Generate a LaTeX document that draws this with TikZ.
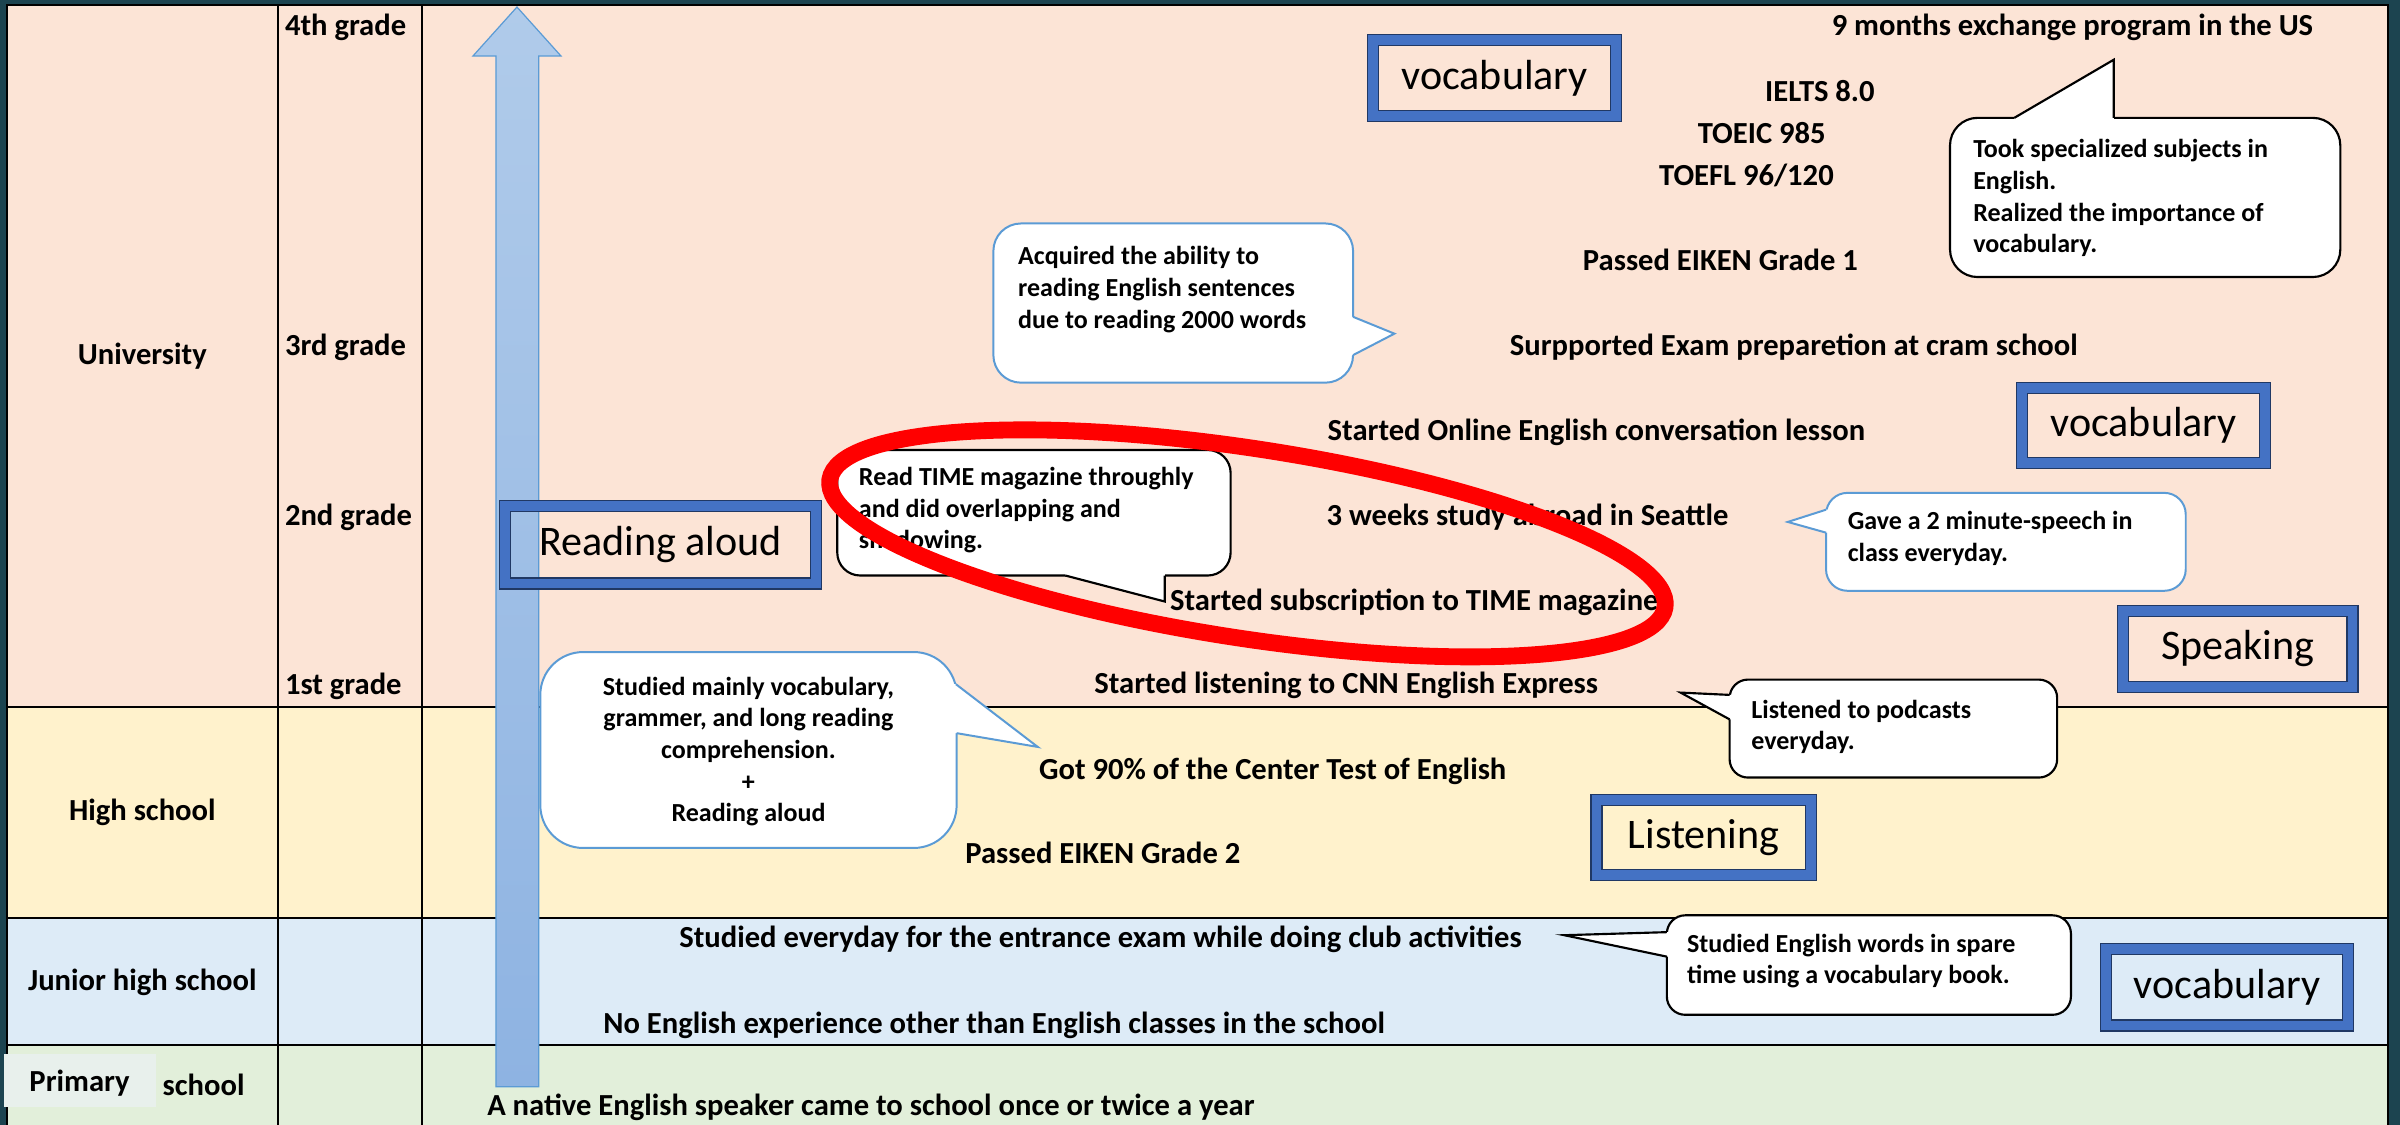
\documentclass[tikz,border=0pt]{standalone}
\usepackage{fontspec}
\setmainfont{Carlito}
\usetikzlibrary{calc}

\definecolor{frame}{HTML}{1C4450}
\definecolor{rowuni}{HTML}{FCE4D6}
\definecolor{rowhigh}{HTML}{FFF2CC}
\definecolor{rowjun}{HTML}{DDEBF7}
\definecolor{rowpri}{HTML}{E2EFDA}
\definecolor{pritag}{HTML}{E8F0EC}
\definecolor{arrtop}{HTML}{B0CBEA}
\definecolor{arrbot}{HTML}{8EB3E2}
\definecolor{arredge}{HTML}{5B9BD5}
\definecolor{calblue}{HTML}{5B9BD5}
\definecolor{skblue}{HTML}{4472C4}
\definecolor{skedge}{HTML}{203864}
\definecolor{ringred}{HTML}{FF0000}

\begin{document}
\begin{tikzpicture}[x=1pt,y=-1pt,
  grid/.style={draw=black, line width=1.3pt},
  lab/.style={font=\fontsize{20}{24}\selectfont\bfseries, inner sep=0pt,
    text height=18pt, text depth=4pt, text=black},
  grade/.style={lab, anchor=west},
  note/.style={font=\fontsize{17}{20.7}\selectfont\bfseries, inner sep=0pt,
    align=left, anchor=north west, text=black},
  bubblek/.style={draw=black, line width=1.4pt, fill=white,
    rounded corners=#1, inner sep=0pt},
  bubblek/.default=16pt,
  bubbleb/.style={draw=calblue, line width=1.3pt, fill=white,
    rounded corners=#1, inner sep=0pt},
  bubbleb/.default=16pt,
  tipk/.style={draw=black, line width=1.4pt, line join=miter},
  tipb/.style={draw=calblue, line width=1.3pt, line join=miter},
  skill/.style={draw=skedge, line width=0.8pt, double=skblue,
    double distance=6.4pt, inner sep=0pt, text=black,
    font=\fontsize{27.5}{30}\selectfont}
]
\useasboundingbox (0,0) rectangle (1568,735);
\fill[frame] (0,0) rectangle (1568,735);
\clip (0,0) rectangle (1568,735);

% stage bands
\fill[rowuni]  (4.5,3.3)   rectangle (1560,461.7);
\fill[rowhigh] (4.5,461.7) rectangle (1560,599.6);
\fill[rowjun]  (4.5,599.6) rectangle (1560,682.7);
\fill[rowpri]  (4.5,682.7) rectangle (1560,745);

% table rules
\draw[grid] (4.5,3.3) rectangle (1560,745);
\draw[grid] (181.6,3.3) -- (181.6,745);
\draw[grid] (275.5,3.3) -- (275.5,745);
\draw[grid] (4.5,461.7) -- (1560,461.7);
\draw[grid] (4.5,599.6) -- (1560,599.6);
\draw[grid] (4.5,682.7) -- (1560,682.7);

% progress arrow
\path[draw=arredge, line width=0.8pt, top color=arrtop, bottom color=arrbot]
  (324,710) -- (324,36.6) -- (309,36.6) -- (337.75,4.6) -- (366.5,36.6)
  -- (352,36.6) -- (352,710) -- cycle;

% stage names
\node[lab] (uni) at (93,231) {University};
\node[lab] (high) at (93,529) {High school};
\node[lab] (junior) at (93,640) {Junior high school};
\fill[pritag] (2.5,688.6) rectangle (102,723);
\node[lab] (prim) at (52,706) {Primary};
\node[lab] (primb) at (133,709) {school};

% university years
\node[grade] (g4) at (186,16) {4th grade};
\node[grade] (g3) at (186,225) {3rd grade};
\node[grade] (g2) at (186,336) {2nd grade};
\node[grade] (g1) at (186,447) {1st grade};

% milestones
\node[lab] (m1) at (1354,16) {9 months exchange program in the US};
\node[lab] (m2) at (1189,59) {IELTS 8.0};
\node[lab] (m3) at (1151,87) {TOEIC 985};
\node[lab] (m4) at (1141,114) {TOEFL 96/120};
\node[lab] (m5) at (1124,170) {Passed EIKEN Grade 1};
\node[lab] (m6) at (1172,225) {Surpported Exam preparetion at cram school};
\node[lab] (m7) at (1043,281) {Started Online English conversation lesson};
\node[lab] (m8) at (998,336) {3 weeks study abroad in Seattle};
\node[lab] (m9) at (924,392) {Started subscription to TIME magazine};
\node[lab] (m10) at (879.5,446) {Started listening to CNN English Express};
\node[lab] (m11) at (831.5,502) {Got 90\% of the Center Test of English};
\node[lab] (m12) at (720.5,557) {Passed EIKEN Grade 2};
\node[lab] (m13) at (719,612) {Studied everyday for the entrance exam while doing club activities};
\node[lab] (m14) at (649.5,668) {No English experience other than English classes in the school};
\node[lab] (m15) at (569,722) {A native English speaker came to school once or twice a year};

% speech bubbles
\node[bubblek=18pt, minimum width=255pt, minimum height=104pt] (b1) at (1401.5,129) {};
\coordinate (tip1) at (1381,39);
\fill[white] (1316,80) -- (1316,77) -- (tip1) -- (1381,77) -- (1381,80) -- cycle;
\draw[tipk] (1316,77) -- (tip1) -- (1381,77);
\node[note] (n1) at (1289,91) {Took specialized subjects in\\English.\\Realized the importance of\\vocabulary.};

\node[bubbleb=18pt, minimum width=235pt, minimum height=104pt] (b2) at (766.5,198) {};
\coordinate (tip2) at (911,218);
\fill[white] (881,207) -- (884,207) -- (tip2) -- (884,232) -- (881,232) -- cycle;
\draw[tipb] (884,207) -- (tip2) -- (884,232);
\node[note] (n2) at (665,161) {Acquired the ability to\\reading English sentences\\due to reading 2000 words};

\node[bubblek=15pt, minimum width=257pt, minimum height=82pt] (b3) at (675.5,335) {};
\coordinate (tip3) at (761,393);
\fill[white] (696,373) -- (696,376) -- (tip3) -- (761,376) -- (761,373) -- cycle;
\draw[tipk] (696,376) -- (tip3) -- (761,376);
\node[note] (n3) at (561,305) {Read TIME magazine throughly\\and did overlapping and\\shadowing.};

\node[bubbleb=14pt, minimum width=235pt, minimum height=64pt] (b4) at (1310.5,354) {};
\coordinate (tip4) at (1168,341);
\fill[white] (1196,333) -- (1193,333) -- (tip4) -- (1193,348) -- (1196,348) -- cycle;
\draw[tipb] (1193,333) -- (tip4) -- (1193,348);
\node[note] (n4) at (1207,334) {Gave a 2 minute-speech in\\class everyday.};

\node[bubblek=12pt, minimum width=214pt, minimum height=64pt] (b5) at (1237,476) {};
\coordinate (tip5) at (1098,452.5);
\fill[white] (1133,454) -- (1130,454) -- (tip5) -- (1130,470) -- (1133,470) -- cycle;
\draw[tipk] (1130,454) -- (tip5) -- (1130,470);
\node[note] (n5) at (1144,457) {Listened to podcasts\\everyday.};

\node[bubbleb=28pt, minimum width=272pt, minimum height=128pt] (b6) at (489,490) {};
\coordinate (tip6) at (678,488);
\fill[white] (621,447) -- (624.5,447) -- (tip6) -- (625,479) -- (621,479) -- cycle;
\draw[tipb] (624.5,447) -- (tip6) -- (625,479);
\node[note, align=center, anchor=north] (n6) at (489,442) {Studied mainly vocabulary,\\grammer, and long reading\\comprehension.\\+\\Reading aloud};

\node[bubblek=12pt, minimum width=264pt, minimum height=65pt] (b7) at (1221,630.5) {};
\coordinate (tip7) at (1022,611);
\fill[white] (1092,609) -- (1089,609) -- (tip7) -- (1089,625) -- (1092,625) -- cycle;
\draw[tipk] (1089,609) -- (tip7) -- (1089,625);
\node[note] (n7) at (1102,610) {Studied English words in spare\\time using a vocabulary book.};

% skill tags
\node[skill, minimum width=159pt, minimum height=50pt] (s1) at (976.5,51) {vocabulary};
\node[skill, minimum width=159pt, minimum height=49pt] (s2) at (1400.5,278) {vocabulary};
\node[skill, minimum width=203pt, minimum height=50.5pt] (s3) at (431.5,356) {Reading aloud};
\node[skill, minimum width=150pt, minimum height=50pt] (s4) at (1462,424) {Speaking};
\node[skill, minimum width=140pt, minimum height=49pt] (s5) at (1113,547) {Listening};
\node[skill, minimum width=158pt, minimum height=50pt] (s6) at (1455,645) {vocabulary};

% highlight ring
\draw[ringred, line width=11pt, rotate around={-8.7:(815,355)}]
  (815,355) ellipse [x radius=276pt, y radius=62pt];
\end{tikzpicture}
\end{document}
